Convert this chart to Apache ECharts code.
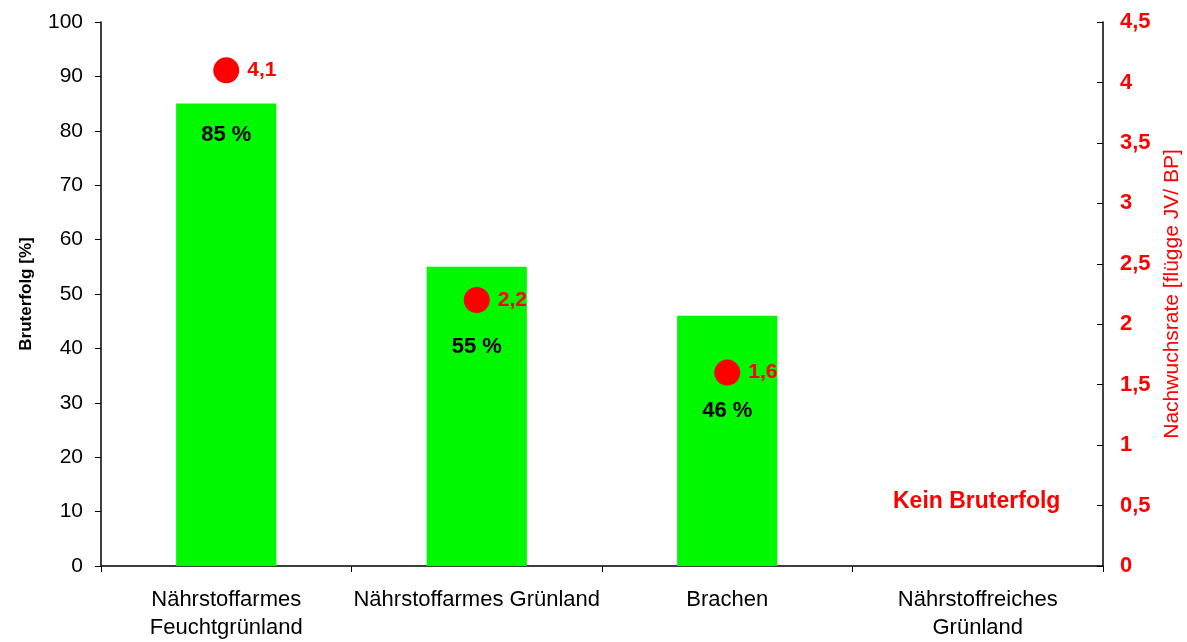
<!DOCTYPE html>
<html>
<head>
<meta charset="utf-8">
<script src="https://cdn.jsdelivr.net/npm/echarts@6/dist/echarts.min.js"></script>
<style>
  html, body { margin: 0; padding: 0; background: #fff; }
  #chart { width: 1187px; height: 642px; }
</style>
</head>
<body>
<div id="chart"></div>
<script>
// Daten
const categories = ['Nährstoffarmes\nFeuchtgrünland', 'Nährstoffarmes Grünland', 'Brachen', 'Nährstoffreiches\nGrünland']
const bruterfolg = [85, 55, 46, null]
const nachwuchsrate = [4.1, 2.2, 1.6, null]
const leftTicks = [0, 100, 10]
const rightTicks = [0, 4.5, 0.5]

// Abstand der %-Beschriftung von der Balkenoberkante
const labelDistance = [20, 69, 84, 0]

const font = 'Liberation Sans, Arial, sans-serif'

const chart = echarts.init(document.getElementById('chart'))

const option = {
  animation: false,
  grid: { left: 101, right: 84, top: 22, bottom: 76, outerBoundsMode: 'none' },
  xAxis: {
    type: 'category',
    data: categories,
    axisLine: { lineStyle: { color: '#000', width: 1.5 } },
    axisTick: { show: true, interval: 0, length: 6, lineStyle: { color: '#000' } },
    axisLabel: { interval: 0, color: '#000', fontFamily: font, fontSize: 22, lineHeight: 28, margin: 20 }
  },
  yAxis: [
    {
      type: 'value',
      min: leftTicks[0], max: leftTicks[1], interval: leftTicks[2],
      name: 'Bruterfolg [%]',
      nameLocation: 'middle',
      nameRotate: 90,
      nameGap: 66,
      nameTextStyle: { color: '#000', fontFamily: font, fontSize: 17, fontWeight: 'bold' },
      splitLine: { show: false },
      axisLine: { show: true, lineStyle: { color: '#000', width: 1.5 } },
      axisTick: { show: true, length: 6, lineStyle: { color: '#000' } },
      axisLabel: { color: '#000', fontFamily: font, fontSize: 21, margin: 18 }
    },
    {
      type: 'value',
      position: 'right',
      min: rightTicks[0], max: rightTicks[1], interval: rightTicks[2],
      name: 'Nachwuchsrate [flügge JV/ BP]',
      nameLocation: 'middle',
      nameRotate: 90,
      nameGap: 52,
      nameTextStyle: { color: '#ff0000', fontFamily: font, fontSize: 21 },
      splitLine: { show: false },
      axisLine: { show: true, lineStyle: { color: '#000', width: 1.5 } },
      axisTick: { show: true, inside: true, length: 6, lineStyle: { color: '#000' } },
      axisLabel: {
        color: '#ff0000', fontFamily: font, fontSize: 22, fontWeight: 'bold', margin: 17,
        formatter: v => String(v).replace('.', ',')
      }
    }
  ],
  series: [
    {
      name: 'Bruterfolg',
      type: 'bar',
      barWidth: '40%',
      itemStyle: { color: '#00f800' },
      data: bruterfolg.map((v, i) => ({
        value: v,
        label: {
          show: v != null,
          position: 'insideTop',
          distance: labelDistance[i],
          formatter: '{c} %',
          color: '#000',
          fontFamily: font,
          fontSize: 22,
          fontWeight: 'bold'
        }
      }))
    },
    {
      name: 'Nachwuchsrate',
      type: 'scatter',
      yAxisIndex: 1,
      symbol: 'circle',
      symbolSize: 26,
      itemStyle: { color: '#ff0000', opacity: 1 },
      label: {
        show: true,
        position: 'right',
        distance: 8,
        color: '#ff0000',
        fontFamily: font,
        fontSize: 21,
        fontWeight: 'bold',
        formatter: p => String(p.value).replace('.', ',')
      },
      data: nachwuchsrate
    }
  ],
  graphic: [
    {
      type: 'text',
      left: 893,
      top: 490,
      style: {
        text: 'Kein Bruterfolg',
        fill: '#ff0000',
        font: 'bold 23px Liberation Sans, Arial, sans-serif'
      }
    }
  ]
}

chart.setOption(option)
</script>
</body>
</html>
